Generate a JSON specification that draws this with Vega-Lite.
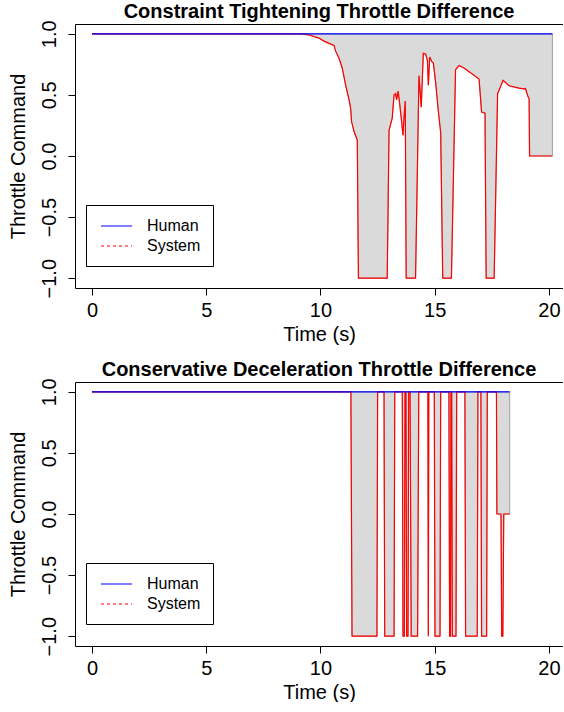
{
  "$schema": "https://vega.github.io/schema/vega-lite/v6.json",
  "background": "white",
  "padding": {"left": 7, "top": 1, "right": 0, "bottom": 0},
  "config": {
    "font": "Liberation Sans",
    "view": {"stroke": null},
    "title": {"font": "Liberation Sans", "fontSize": 20, "fontWeight": "bold", "color": "black", "anchor": "middle", "offset": -2},
    "axis": {"labelFont": "Liberation Sans", "labelFontSize": 20, "titleFont": "Liberation Sans", "titleFontSize": 20, "titleFontWeight": "normal", "labelColor": "black", "titleColor": "black", "tickColor": "black", "domainColor": "black", "tickSize": 7, "grid": false, "labelFlush": false, "labelOverlap": false},
    "legend": {"orient": "none", "legendX": 11, "legendY": 181, "strokeColor": "black", "fillColor": "white", "padding": 12, "symbolType": "M-0.75,0H3.125", "symbolSize": 256, "symbolStrokeWidth": 1.2, "labelFont": "Liberation Sans", "labelFontSize": 16, "labelColor": "black", "labelOffset": 31, "rowPadding": 3}
  },
  "spacing": 15,
  "resolve": {"scale": {"color": "independent"}, "legend": {"color": "independent"}},
  "vconcat": [
    {
      "title": "Constraint Tightening Throttle Difference",
      "width": 488, "height": 264,
      "data": {"values": [
        {"t": 0, "human": 1, "system": 1},
        {"t": 9.0, "human": 1, "system": 1},
        {"t": 9.5, "human": 1, "system": 0.99},
        {"t": 9.93, "human": 1, "system": 0.965},
        {"t": 10.15, "human": 1, "system": 0.94},
        {"t": 10.45, "human": 1, "system": 0.915},
        {"t": 10.59, "human": 1, "system": 0.905},
        {"t": 10.66, "human": 1, "system": 0.86},
        {"t": 10.81, "human": 1, "system": 0.80},
        {"t": 10.95, "human": 1, "system": 0.72},
        {"t": 11.1, "human": 1, "system": 0.58},
        {"t": 11.25, "human": 1, "system": 0.46},
        {"t": 11.32, "human": 1, "system": 0.39},
        {"t": 11.36, "human": 1, "system": 0.28},
        {"t": 11.47, "human": 1, "system": 0.20},
        {"t": 11.61, "human": 1, "system": 0.13},
        {"t": 11.66, "human": 1, "system": -1},
        {"t": 12.92, "human": 1, "system": -1},
        {"t": 13.0, "human": 1, "system": 0.21},
        {"t": 13.14, "human": 1, "system": 0.31},
        {"t": 13.22, "human": 1, "system": 0.50},
        {"t": 13.29, "human": 1, "system": 0.51},
        {"t": 13.33, "human": 1, "system": 0.46},
        {"t": 13.4, "human": 1, "system": 0.53},
        {"t": 13.47, "human": 1, "system": 0.42},
        {"t": 13.54, "human": 1, "system": 0.30},
        {"t": 13.61, "human": 1, "system": 0.17},
        {"t": 13.65, "human": 1, "system": 0.30},
        {"t": 13.71, "human": 1, "system": 0.45},
        {"t": 13.75, "human": 1, "system": -1},
        {"t": 14.16, "human": 1, "system": -1},
        {"t": 14.31, "human": 1, "system": 0.656},
        {"t": 14.41, "human": 1, "system": 0.40},
        {"t": 14.5, "human": 1, "system": 0.84},
        {"t": 14.6, "human": 1, "system": 0.835},
        {"t": 14.68, "human": 1, "system": 0.78},
        {"t": 14.72, "human": 1, "system": 0.58},
        {"t": 14.78, "human": 1, "system": 0.81},
        {"t": 14.88, "human": 1, "system": 0.77},
        {"t": 14.94, "human": 1, "system": 0.76},
        {"t": 15.04, "human": 1, "system": 0.60},
        {"t": 15.15, "human": 1, "system": 0.38},
        {"t": 15.26, "human": 1, "system": 0.19},
        {"t": 15.35, "human": 1, "system": -1},
        {"t": 15.73, "human": 1, "system": -1},
        {"t": 15.91, "human": 1, "system": 0.705},
        {"t": 16.06, "human": 1, "system": 0.74},
        {"t": 16.28, "human": 1, "system": 0.72},
        {"t": 16.5, "human": 1, "system": 0.69},
        {"t": 16.72, "human": 1, "system": 0.66},
        {"t": 16.94, "human": 1, "system": 0.63},
        {"t": 17.05, "human": 1, "system": 0.36},
        {"t": 17.2, "human": 1, "system": 0.35},
        {"t": 17.25, "human": 1, "system": -1},
        {"t": 17.6, "human": 1, "system": -1},
        {"t": 17.75, "human": 1, "system": 0.51},
        {"t": 17.81, "human": 1, "system": 0.535},
        {"t": 17.99, "human": 1, "system": 0.62},
        {"t": 18.25, "human": 1, "system": 0.575},
        {"t": 18.69, "human": 1, "system": 0.555},
        {"t": 18.9, "human": 1, "system": 0.55},
        {"t": 18.97, "human": 1, "system": 0.552},
        {"t": 19.08, "human": 1, "system": 0.486},
        {"t": 19.13, "human": 1, "system": 0.47},
        {"t": 19.15, "human": 1, "system": 0},
        {"t": 20.15, "human": 1, "system": 0}
      ]},
      "resolve": {"axis": {"x": "independent"}},
      "layer": [
        {
          "mark": {"type": "area", "fill": "#dadada", "stroke": "#a0a0a0", "strokeWidth": 1},
          "encoding": {
            "x": {"field": "t", "type": "quantitative", "scale": {"domain": [-0.744, 20.613], "nice": false, "zero": false},
                  "axis": {"orient": "bottom", "title": "Time (s)", "values": [0, 5, 10, 15, 20], "format": "d", "labelPadding": 5, "titlePadding": 4, "domain": true}},
            "y": {"field": "system", "type": "quantitative", "scale": {"domain": [-1.08, 1.08], "nice": false, "zero": false},
                  "axis": {"title": "Throttle Command", "values": [-1, -0.5, 0, 0.5, 1], "format": ".1f", "labelAngle": -90, "labelAlign": "center", "labelBaseline": "alphabetic", "labelPadding": 13, "titlePadding": 11, "domain": true}},
            "y2": {"field": "human"}
          }
        },
        {
          "mark": {"type": "line", "strokeWidth": 1.2},
          "encoding": {
            "x": {"field": "t", "type": "quantitative", "axis": {"orient": "top", "labels": false, "ticks": false, "title": null, "domain": true}},
            "y": {"field": "system", "type": "quantitative", "axis": {"title": "Throttle Command"}},
            "color": {"datum": "System", "type": "nominal", "scale": {"domain": ["Human", "System"], "range": ["#0000ff", "#ff0000"]},
                      "legend": {"title": null, "encode": {"symbols": {"update": {"strokeDash": {"signal": "datum.value === 'System' ? [3, 3] : [1, 0]"}}}}}}
          }
        },
        {
          "mark": {"type": "line", "strokeWidth": 1.2},
          "encoding": {
            "x": {"field": "t", "type": "quantitative", "axis": null},
            "y": {"field": "human", "type": "quantitative", "axis": {"title": "Throttle Command"}},
            "color": {"datum": "Human", "type": "nominal"}
          }
        }
      ]
    },
    {
      "title": "Conservative Deceleration Throttle Difference",
      "width": 488, "height": 264,
      "data": {"values": [
        {"t": 0, "human": 1, "system": 1},
        {"t": 11.33, "human": 1, "system": 1},
        {"t": 11.38, "human": 1, "system": -1},
        {"t": 12.47, "human": 1, "system": -1},
        {"t": 12.5, "human": 1, "system": 1},
        {"t": 12.78, "human": 1, "system": 1},
        {"t": 12.81, "human": 1, "system": -1},
        {"t": 13.22, "human": 1, "system": -1},
        {"t": 13.25, "human": 1, "system": 1},
        {"t": 13.58, "human": 1, "system": 1},
        {"t": 13.61, "human": 1, "system": -1},
        {"t": 13.67, "human": 1, "system": -1},
        {"t": 13.7, "human": 1, "system": 1},
        {"t": 13.74, "human": 1, "system": 1},
        {"t": 13.77, "human": 1, "system": -1},
        {"t": 13.83, "human": 1, "system": -1},
        {"t": 13.86, "human": 1, "system": 1},
        {"t": 13.92, "human": 1, "system": 1},
        {"t": 13.97, "human": 1, "system": -1},
        {"t": 14.25, "human": 1, "system": -1},
        {"t": 14.3, "human": 1, "system": 1},
        {"t": 14.7, "human": 1, "system": 1},
        {"t": 14.72, "human": 1, "system": -1},
        {"t": 14.74, "human": 1, "system": 1},
        {"t": 14.98, "human": 1, "system": 1},
        {"t": 15.01, "human": 1, "system": -1},
        {"t": 15.23, "human": 1, "system": -1},
        {"t": 15.26, "human": 1, "system": 1},
        {"t": 15.62, "human": 1, "system": 1},
        {"t": 15.65, "human": 1, "system": -1},
        {"t": 15.69, "human": 1, "system": -1},
        {"t": 15.71, "human": 1, "system": 1},
        {"t": 15.74, "human": 1, "system": 1},
        {"t": 15.77, "human": 1, "system": -1},
        {"t": 15.93, "human": 1, "system": -1},
        {"t": 15.96, "human": 1, "system": 1},
        {"t": 16.32, "human": 1, "system": 1},
        {"t": 16.35, "human": 1, "system": -1},
        {"t": 16.86, "human": 1, "system": -1},
        {"t": 16.89, "human": 1, "system": 1},
        {"t": 17.02, "human": 1, "system": 1},
        {"t": 17.05, "human": 1, "system": -1},
        {"t": 17.27, "human": 1, "system": -1},
        {"t": 17.3, "human": 1, "system": 1},
        {"t": 17.7, "human": 1, "system": 1},
        {"t": 17.72, "human": 1, "system": 0},
        {"t": 17.9, "human": 1, "system": 0},
        {"t": 17.93, "human": 1, "system": -1},
        {"t": 17.98, "human": 1, "system": -1},
        {"t": 18.02, "human": 1, "system": 0},
        {"t": 18.28, "human": 1, "system": 0}
      ]},
      "resolve": {"axis": {"x": "independent"}},
      "layer": [
        {
          "mark": {"type": "area", "fill": "#dadada", "stroke": "#a0a0a0", "strokeWidth": 1},
          "encoding": {
            "x": {"field": "t", "type": "quantitative", "scale": {"domain": [-0.744, 20.613], "nice": false, "zero": false},
                  "axis": {"orient": "bottom", "title": "Time (s)", "values": [0, 5, 10, 15, 20], "format": "d", "labelPadding": 5, "titlePadding": 4, "domain": true}},
            "y": {"field": "system", "type": "quantitative", "scale": {"domain": [-1.08, 1.08], "nice": false, "zero": false},
                  "axis": {"title": "Throttle Command", "values": [-1, -0.5, 0, 0.5, 1], "format": ".1f", "labelAngle": -90, "labelAlign": "center", "labelBaseline": "alphabetic", "labelPadding": 13, "titlePadding": 11, "domain": true}},
            "y2": {"field": "human"}
          }
        },
        {
          "mark": {"type": "line", "strokeWidth": 1.2},
          "encoding": {
            "x": {"field": "t", "type": "quantitative", "axis": {"orient": "top", "labels": false, "ticks": false, "title": null, "domain": true}},
            "y": {"field": "system", "type": "quantitative", "axis": {"title": "Throttle Command"}},
            "color": {"datum": "System", "type": "nominal", "scale": {"domain": ["Human", "System"], "range": ["#0000ff", "#ff0000"]},
                      "legend": {"title": null, "encode": {"symbols": {"update": {"strokeDash": {"signal": "datum.value === 'System' ? [3, 3] : [1, 0]"}}}}}}
          }
        },
        {
          "mark": {"type": "line", "strokeWidth": 1.2},
          "encoding": {
            "x": {"field": "t", "type": "quantitative", "axis": null},
            "y": {"field": "human", "type": "quantitative", "axis": {"title": "Throttle Command"}},
            "color": {"datum": "Human", "type": "nominal"}
          }
        }
      ]
    }
  ]
}
